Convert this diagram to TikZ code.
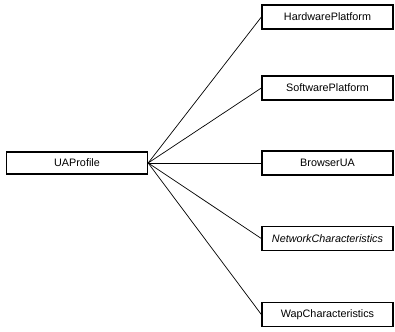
\documentclass[tikz,border=0pt]{standalone}
\usepackage{fontspec}
\setmainfont{Liberation Sans}
\begin{document}
\begin{tikzpicture}[x=1pt,y=-1pt,
  cls/.style={draw=black,line width=1.3pt,fill=white,minimum width=131pt,minimum height=24pt,inner sep=0pt,font=\fontsize{10.8}{12}\selectfont},
  main/.style={cls,minimum width=141pt,minimum height=22pt},
  link/.style={draw=black,line width=0.7pt}]
\useasboundingbox (0,0) rectangle (395,331);
\node[main] (ua) at (77,163) {UAProfile};
\node[cls] (hw) at (327.5,17) {HardwarePlatform};
\node[cls] (sw) at (327.5,88) {SoftwarePlatform};
\node[cls] (br) at (327.5,163) {BrowserUA};
\node[cls] (nc) at (327.5,238.5) {\itshape NetworkCharacteristics};
\node[cls] (wc) at (327.5,314.5) {WapCharacteristics};
\foreach \t in {hw,sw,br,nc,wc} \draw[link] (ua.east) -- (\t.west);
\end{tikzpicture}
\end{document}
